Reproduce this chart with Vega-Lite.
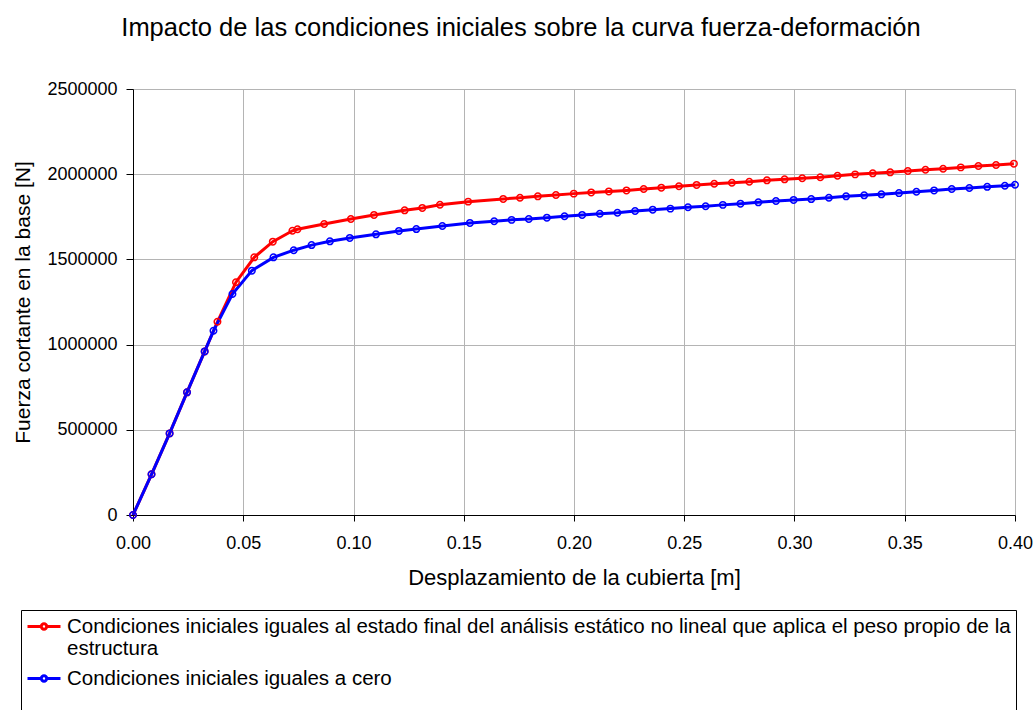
{
  "$schema": "https://vega.github.io/schema/vega-lite/v6.json",
  "width": 882,
  "height": 426,
  "autosize": "none",
  "padding": {"left": 133, "top": 89, "right": 20, "bottom": 195},
  "background": "white",
  "title": {
    "text": "Impacto de las condiciones iniciales sobre la curva fuerza-deformación",
    "font": "Liberation Sans",
    "fontSize": 25.5,
    "fontWeight": "normal",
    "color": "black",
    "anchor": "middle",
    "dx": -53,
    "offset": 39
  },
  "config": {
    "view": {"stroke": null},
    "font": "Liberation Sans",
    "axis": {
      "labelFont": "Liberation Sans",
      "titleFont": "Liberation Sans",
      "labelFontSize": 18,
      "titleFontSize": 21,
      "titleFontWeight": "normal",
      "labelColor": "black",
      "titleColor": "black",
      "domainColor": "black",
      "domainWidth": 1,
      "tickColor": "black",
      "gridColor": "#b4b4b4",
      "gridWidth": 1
    }
  },
  "data": {
    "values": [
      {"serie": "Condiciones iniciales iguales al estado final del análisis estático no lineal que aplica el peso propio de la estructura", "d": 0, "f": 0},
      {"serie": "Condiciones iniciales iguales al estado final del análisis estático no lineal que aplica el peso propio de la estructura", "d": 0.0084, "f": 239000},
      {"serie": "Condiciones iniciales iguales al estado final del análisis estático no lineal que aplica el peso propio de la estructura", "d": 0.0166, "f": 479000},
      {"serie": "Condiciones iniciales iguales al estado final del análisis estático no lineal que aplica el peso propio de la estructura", "d": 0.0245, "f": 720000},
      {"serie": "Condiciones iniciales iguales al estado final del análisis estático no lineal que aplica el peso propio de la estructura", "d": 0.0325, "f": 960000},
      {"serie": "Condiciones iniciales iguales al estado final del análisis estático no lineal que aplica el peso propio de la estructura", "d": 0.0383, "f": 1134000},
      {"serie": "Condiciones iniciales iguales al estado final del análisis estático no lineal que aplica el peso propio de la estructura", "d": 0.0467, "f": 1366000},
      {"serie": "Condiciones iniciales iguales al estado final del análisis estático no lineal que aplica el peso propio de la estructura", "d": 0.0550, "f": 1512000},
      {"serie": "Condiciones iniciales iguales al estado final del análisis estático no lineal que aplica el peso propio de la estructura", "d": 0.0634, "f": 1604000},
      {"serie": "Condiciones iniciales iguales al estado final del análisis estático no lineal que aplica el peso propio de la estructura", "d": 0.0723, "f": 1668000},
      {"serie": "Condiciones iniciales iguales al estado final del análisis estático no lineal que aplica el peso propio de la estructura", "d": 0.0746, "f": 1677000},
      {"serie": "Condiciones iniciales iguales al estado final del análisis estático no lineal que aplica el peso propio de la estructura", "d": 0.0867, "f": 1708000},
      {"serie": "Condiciones iniciales iguales al estado final del análisis estático no lineal que aplica el peso propio de la estructura", "d": 0.0988, "f": 1737000},
      {"serie": "Condiciones iniciales iguales al estado final del análisis estático no lineal que aplica el peso propio de la estructura", "d": 0.1093, "f": 1761000},
      {"serie": "Condiciones iniciales iguales al estado final del análisis estático no lineal que aplica el peso propio de la estructura", "d": 0.1232, "f": 1788000},
      {"serie": "Condiciones iniciales iguales al estado final del análisis estático no lineal que aplica el peso propio de la estructura", "d": 0.1312, "f": 1802000},
      {"serie": "Condiciones iniciales iguales al estado final del análisis estático no lineal que aplica el peso propio de la estructura", "d": 0.1392, "f": 1821000},
      {"serie": "Condiciones iniciales iguales al estado final del análisis estático no lineal que aplica el peso propio de la estructura", "d": 0.1520, "f": 1839000},
      {"serie": "Condiciones iniciales iguales al estado final del análisis estático no lineal que aplica el peso propio de la estructura", "d": 0.1679, "f": 1855000},
      {"serie": "Condiciones iniciales iguales al estado final del análisis estático no lineal que aplica el peso propio de la estructura", "d": 0.1755, "f": 1862000},
      {"serie": "Condiciones iniciales iguales al estado final del análisis estático no lineal que aplica el peso propio de la estructura", "d": 0.1836, "f": 1870000},
      {"serie": "Condiciones iniciales iguales al estado final del análisis estático no lineal que aplica el peso propio de la estructura", "d": 0.1918, "f": 1878000},
      {"serie": "Condiciones iniciales iguales al estado final del análisis estático no lineal que aplica el peso propio de la estructura", "d": 0.1999, "f": 1886000},
      {"serie": "Condiciones iniciales iguales al estado final del análisis estático no lineal que aplica el peso propio de la estructura", "d": 0.2078, "f": 1893000},
      {"serie": "Condiciones iniciales iguales al estado final del análisis estático no lineal que aplica el peso propio de la estructura", "d": 0.2158, "f": 1899000},
      {"serie": "Condiciones iniciales iguales al estado final del análisis estático no lineal que aplica el peso propio de la estructura", "d": 0.2238, "f": 1905000},
      {"serie": "Condiciones iniciales iguales al estado final del análisis estático no lineal que aplica el peso propio de la estructura", "d": 0.2316, "f": 1913000},
      {"serie": "Condiciones iniciales iguales al estado final del análisis estático no lineal que aplica el peso propio de la estructura", "d": 0.2396, "f": 1921000},
      {"serie": "Condiciones iniciales iguales al estado final del análisis estático no lineal que aplica el peso propio de la estructura", "d": 0.2476, "f": 1929000},
      {"serie": "Condiciones iniciales iguales al estado final del análisis estático no lineal que aplica el peso propio de la estructura", "d": 0.2556, "f": 1937000},
      {"serie": "Condiciones iniciales iguales al estado final del análisis estático no lineal que aplica el peso propio de la estructura", "d": 0.2636, "f": 1944000},
      {"serie": "Condiciones iniciales iguales al estado final del análisis estático no lineal que aplica el peso propio de la estructura", "d": 0.2716, "f": 1950000},
      {"serie": "Condiciones iniciales iguales al estado final del análisis estático no lineal que aplica el peso propio de la estructura", "d": 0.2795, "f": 1956000},
      {"serie": "Condiciones iniciales iguales al estado final del análisis estático no lineal que aplica el peso propio de la estructura", "d": 0.2875, "f": 1964000},
      {"serie": "Condiciones iniciales iguales al estado final del análisis estático no lineal que aplica el peso propio de la estructura", "d": 0.2955, "f": 1970000},
      {"serie": "Condiciones iniciales iguales al estado final del análisis estático no lineal que aplica el peso propio de la estructura", "d": 0.3035, "f": 1976000},
      {"serie": "Condiciones iniciales iguales al estado final del análisis estático no lineal que aplica el peso propio de la estructura", "d": 0.3117, "f": 1982000},
      {"serie": "Condiciones iniciales iguales al estado final del análisis estático no lineal que aplica el peso propio de la estructura", "d": 0.3195, "f": 1991000},
      {"serie": "Condiciones iniciales iguales al estado final del análisis estático no lineal que aplica el peso propio de la estructura", "d": 0.3275, "f": 1999000},
      {"serie": "Condiciones iniciales iguales al estado final del análisis estático no lineal que aplica el peso propio de la estructura", "d": 0.3355, "f": 2005000},
      {"serie": "Condiciones iniciales iguales al estado final del análisis estático no lineal que aplica el peso propio de la estructura", "d": 0.3434, "f": 2011000},
      {"serie": "Condiciones iniciales iguales al estado final del análisis estático no lineal que aplica el peso propio de la estructura", "d": 0.3514, "f": 2019000},
      {"serie": "Condiciones iniciales iguales al estado final del análisis estático no lineal que aplica el peso propio de la estructura", "d": 0.3594, "f": 2026000},
      {"serie": "Condiciones iniciales iguales al estado final del análisis estático no lineal que aplica el peso propio de la estructura", "d": 0.3674, "f": 2032000},
      {"serie": "Condiciones iniciales iguales al estado final del análisis estático no lineal que aplica el peso propio de la estructura", "d": 0.3754, "f": 2040000},
      {"serie": "Condiciones iniciales iguales al estado final del análisis estático no lineal que aplica el peso propio de la estructura", "d": 0.3834, "f": 2048000},
      {"serie": "Condiciones iniciales iguales al estado final del análisis estático no lineal que aplica el peso propio de la estructura", "d": 0.3914, "f": 2054000},
      {"serie": "Condiciones iniciales iguales al estado final del análisis estático no lineal que aplica el peso propio de la estructura", "d": 0.3995, "f": 2062000},
      {"serie": "Condiciones iniciales iguales a cero", "d": 0, "f": 0},
      {"serie": "Condiciones iniciales iguales a cero", "d": 0.0084, "f": 239000},
      {"serie": "Condiciones iniciales iguales a cero", "d": 0.0166, "f": 479000},
      {"serie": "Condiciones iniciales iguales a cero", "d": 0.0245, "f": 720000},
      {"serie": "Condiciones iniciales iguales a cero", "d": 0.0325, "f": 960000},
      {"serie": "Condiciones iniciales iguales a cero", "d": 0.0365, "f": 1081000},
      {"serie": "Condiciones iniciales iguales a cero", "d": 0.0451, "f": 1297000},
      {"serie": "Condiciones iniciales iguales a cero", "d": 0.0539, "f": 1434000},
      {"serie": "Condiciones iniciales iguales a cero", "d": 0.0637, "f": 1512000},
      {"serie": "Condiciones iniciales iguales a cero", "d": 0.0729, "f": 1554000},
      {"serie": "Condiciones iniciales iguales a cero", "d": 0.0810, "f": 1584000},
      {"serie": "Condiciones iniciales iguales a cero", "d": 0.0893, "f": 1606000},
      {"serie": "Condiciones iniciales iguales a cero", "d": 0.0983, "f": 1626000},
      {"serie": "Condiciones iniciales iguales a cero", "d": 0.1102, "f": 1647000},
      {"serie": "Condiciones iniciales iguales a cero", "d": 0.1206, "f": 1667000},
      {"serie": "Condiciones iniciales iguales a cero", "d": 0.1285, "f": 1678000},
      {"serie": "Condiciones iniciales iguales a cero", "d": 0.1403, "f": 1696000},
      {"serie": "Condiciones iniciales iguales a cero", "d": 0.1528, "f": 1714000},
      {"serie": "Condiciones iniciales iguales a cero", "d": 0.1638, "f": 1724000},
      {"serie": "Condiciones iniciales iguales a cero", "d": 0.1717, "f": 1732000},
      {"serie": "Condiciones iniciales iguales a cero", "d": 0.1795, "f": 1737000},
      {"serie": "Condiciones iniciales iguales a cero", "d": 0.1877, "f": 1745000},
      {"serie": "Condiciones iniciales iguales a cero", "d": 0.1957, "f": 1753000},
      {"serie": "Condiciones iniciales iguales a cero", "d": 0.2037, "f": 1761000},
      {"serie": "Condiciones iniciales iguales a cero", "d": 0.2117, "f": 1768000},
      {"serie": "Condiciones iniciales iguales a cero", "d": 0.2197, "f": 1774000},
      {"serie": "Condiciones iniciales iguales a cero", "d": 0.2277, "f": 1784000},
      {"serie": "Condiciones iniciales iguales a cero", "d": 0.2357, "f": 1792000},
      {"serie": "Condiciones iniciales iguales a cero", "d": 0.2437, "f": 1798000},
      {"serie": "Condiciones iniciales iguales a cero", "d": 0.2517, "f": 1806000},
      {"serie": "Condiciones iniciales iguales a cero", "d": 0.2597, "f": 1812000},
      {"serie": "Condiciones iniciales iguales a cero", "d": 0.2675, "f": 1820000},
      {"serie": "Condiciones iniciales iguales a cero", "d": 0.2755, "f": 1827000},
      {"serie": "Condiciones iniciales iguales a cero", "d": 0.2836, "f": 1835000},
      {"serie": "Condiciones iniciales iguales a cero", "d": 0.2916, "f": 1843000},
      {"serie": "Condiciones iniciales iguales a cero", "d": 0.2996, "f": 1849000},
      {"serie": "Condiciones iniciales iguales a cero", "d": 0.3076, "f": 1854000},
      {"serie": "Condiciones iniciales iguales a cero", "d": 0.3156, "f": 1862000},
      {"serie": "Condiciones iniciales iguales a cero", "d": 0.3234, "f": 1870000},
      {"serie": "Condiciones iniciales iguales a cero", "d": 0.3316, "f": 1876000},
      {"serie": "Condiciones iniciales iguales a cero", "d": 0.3394, "f": 1882000},
      {"serie": "Condiciones iniciales iguales a cero", "d": 0.3474, "f": 1889000},
      {"serie": "Condiciones iniciales iguales a cero", "d": 0.3553, "f": 1897000},
      {"serie": "Condiciones iniciales iguales a cero", "d": 0.3633, "f": 1905000},
      {"serie": "Condiciones iniciales iguales a cero", "d": 0.3713, "f": 1913000},
      {"serie": "Condiciones iniciales iguales a cero", "d": 0.3793, "f": 1919000},
      {"serie": "Condiciones iniciales iguales a cero", "d": 0.3874, "f": 1926000},
      {"serie": "Condiciones iniciales iguales a cero", "d": 0.3954, "f": 1932000},
      {"serie": "Condiciones iniciales iguales a cero", "d": 0.4000, "f": 1938000}
    ]
  },
  "encoding": {
    "x": {
      "field": "d",
      "type": "quantitative",
      "scale": {"domain": [0, 0.4], "nice": false},
      "axis": {
        "title": "Desplazamiento de la cubierta [m]",
        "titleFontSize": 22,
        "values": [0, 0.05, 0.1, 0.15, 0.2, 0.25, 0.3, 0.35, 0.4],
        "format": ".2f",
        "tickSize": 6,
        "labelPadding": 13,
        "titlePadding": 15,
        "labelFlush": false
      }
    },
    "y": {
      "field": "f",
      "type": "quantitative",
      "scale": {"domain": [0, 2500000], "nice": false},
      "axis": {
        "title": "Fuerza cortante en la base [N]",
        "values": [0, 500000, 1000000, 1500000, 2000000, 2500000],
        "format": "d",
        "tickSize": 7,
        "labelPadding": 9,
        "titlePadding": 13,
        "labelFlush": false
      }
    },
    "color": {
      "field": "serie",
      "type": "nominal",
      "scale": {
        "domain": ["Condiciones iniciales iguales al estado final del análisis estático no lineal que aplica el peso propio de la estructura", "Condiciones iniciales iguales a cero"],
        "range": ["#ff0000", "#0000ff"]
      },
      "legend": {
        "orient": "none",
        "legendX": -112,
        "legendY": 521,
        "title": null,
        "direction": "vertical",
        "strokeColor": "black",
        "fillColor": "white",
        "padding": 5,
        "labelFont": "Liberation Sans",
        "labelFontSize": 20.5,
        "labelColor": "black",
        "labelLimit": 1100,
        "labelOffset": 18,
        "rowPadding": 7,
        "symbolType": "M-1,0L0.38,0M0.92,0L2.3,0M0.92,0A0.27,0.27,0,1,1,0.38,0A0.27,0.27,0,1,1,0.92,0",
        "symbolSize": 400,
        "symbolStrokeWidth": 3,
        "symbolFillColor": "transparent",
        "labelExpr": "datum.label == 'Condiciones iniciales iguales a cero' ? [datum.label, ' '] : ['Condiciones iniciales iguales al estado final del análisis estático no lineal que aplica el peso propio de la', 'estructura']"
      }
    }
  },
  "layer": [
    {"mark": {"type": "line", "strokeWidth": 3}},
    {"mark": {"type": "point", "shape": "circle", "filled": false, "size": 42, "strokeWidth": 1.5, "opacity": 1}}
  ]
}
